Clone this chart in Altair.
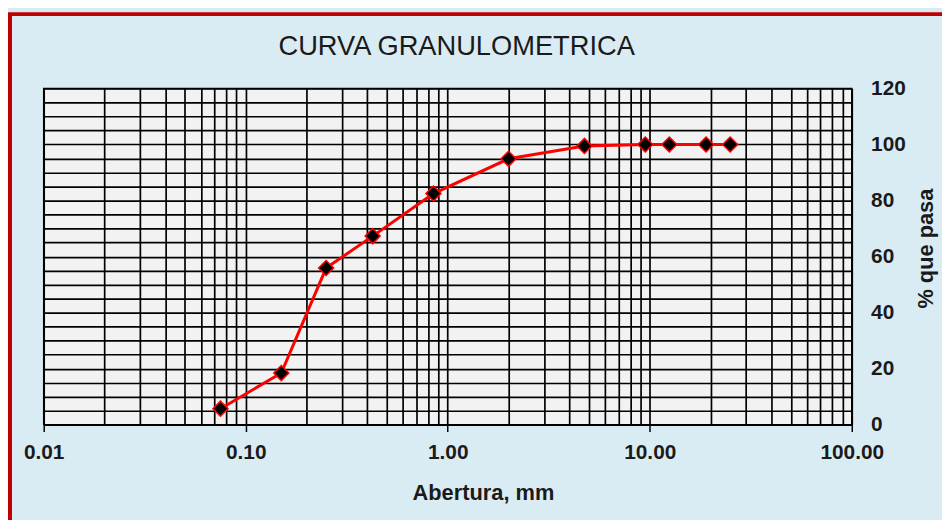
import altair as alt
import pandas as pd

# Sieve openings (mm) and percent passing
abertura = [0.075, 0.15, 0.25, 0.425, 0.85, 2.0, 4.75, 9.5, 12.5, 19.0, 25.0]
pasa = [5.7, 18.4, 55.9, 67.3, 82.5, 94.9, 99.5, 100, 100, 100, 100]

# Axis tick/grid positions
x_grid = sorted(set([round(d * m, 6) for d in [0.01, 0.1, 1, 10] for m in range(1, 10)] + [100]))
y_grid = list(range(0, 125, 5))

TITLE = "CURVA GRANULOMETRICA"

df = pd.DataFrame({"abertura": abertura, "pasa": pasa})

FONT = "Liberation Sans"
is_decade = "abs(log(datum.value)/LN10 - round(log(datum.value)/LN10)) < 1e-6"

x_enc = alt.X(
    "abertura:Q",
    scale=alt.Scale(type="log", domain=[0.01, 100], nice=False),
    axis=alt.Axis(
        values=x_grid,
        grid=True,
        gridColor="black",
        gridWidth=1.7,
        gridOpacity=1,
        domain=False,
        ticks=True,
        tickColor="black",
        tickWidth=1.5,
        tickSize=7,
        tickOpacity={"condition": {"test": is_decade, "value": 1}, "value": 0},
        labelExpr=f"({is_decade}) ? format(datum.value, '.2f') : ''",
        labelFont=FONT,
        labelFontSize=21,
        labelFontWeight="bold",
        labelColor="#1a1a1a",
        labelPadding=10,
        labelFlush=False,
        labelOverlap=False,
        title="Abertura, mm",
        titleFont=FONT,
        titleFontSize=22,
        titleFontWeight="bold",
        titleColor="#1a1a1a",
        titleX=443,
        titleY=76,
        titleAlign="center",
        titleBaseline="alphabetic",
    ),
)

y_enc = alt.Y(
    "pasa:Q",
    scale=alt.Scale(domain=[0, 120], nice=False),
    axis=alt.Axis(
        orient="right",
        values=y_grid,
        tickCount=25,
        grid=True,
        gridColor="black",
        gridWidth=1.7,
        gridOpacity=1,
        domain=False,
        ticks=False,
        labelExpr="datum.value % 20 === 0 ? datum.label : ''",
        labelFont=FONT,
        labelFontSize=21,
        labelFontWeight="bold",
        labelColor="#1a1a1a",
        labelPadding=19,
        labelAlign="left",
        labelBaseline="middle",
        labelFlush=False,
        labelOverlap=False,
        title="% que pasa",
        titleFont=FONT,
        titleFontSize=22,
        titleFontWeight="bold",
        titleColor="#1a1a1a",
        titleAngle=270,
        titleBaseline="top",
        titleAlign="center",
        titleX=64,
        titleY=161,
    ),
)

base = alt.Chart(df).encode(x=x_enc, y=y_enc)
line = base.mark_line(color="#FF0000", strokeWidth=3)
points = base.mark_point(
    shape="diamond", filled=True, fill="black", stroke="#FF0000", strokeWidth=1.5,
    size=230, opacity=1
)

border = alt.Chart(alt.Data(values=[{}])).mark_rect(
    fillOpacity=0, stroke="#C00000", strokeWidth=4
).encode(
    x=alt.value(-34), x2=alt.value(1100), y=alt.value(-75), y2=alt.value(700)
)

title = alt.Chart(alt.Data(values=[{}])).mark_text(
    font=FONT, fontSize=27.5, fontWeight="normal", color="#1a1a1a",
    align="center", baseline="alphabetic"
).encode(
    x=alt.value(416.5), y=alt.value(-34), text=alt.value(TITLE)
)

chart = alt.layer(line, points, border, title).properties(
    width=815,
    height=339,
    background="#DAECF3",
    padding={"left": 36, "top": 79, "right": 91, "bottom": 94},
    autosize=alt.AutoSizeParams(type="none"),
).configure_view(
    fill="#F2F2F2", stroke="black", strokeWidth=1.5
)

chart.save("out.html", embed_options={"renderer": "svg", "actions": False})
